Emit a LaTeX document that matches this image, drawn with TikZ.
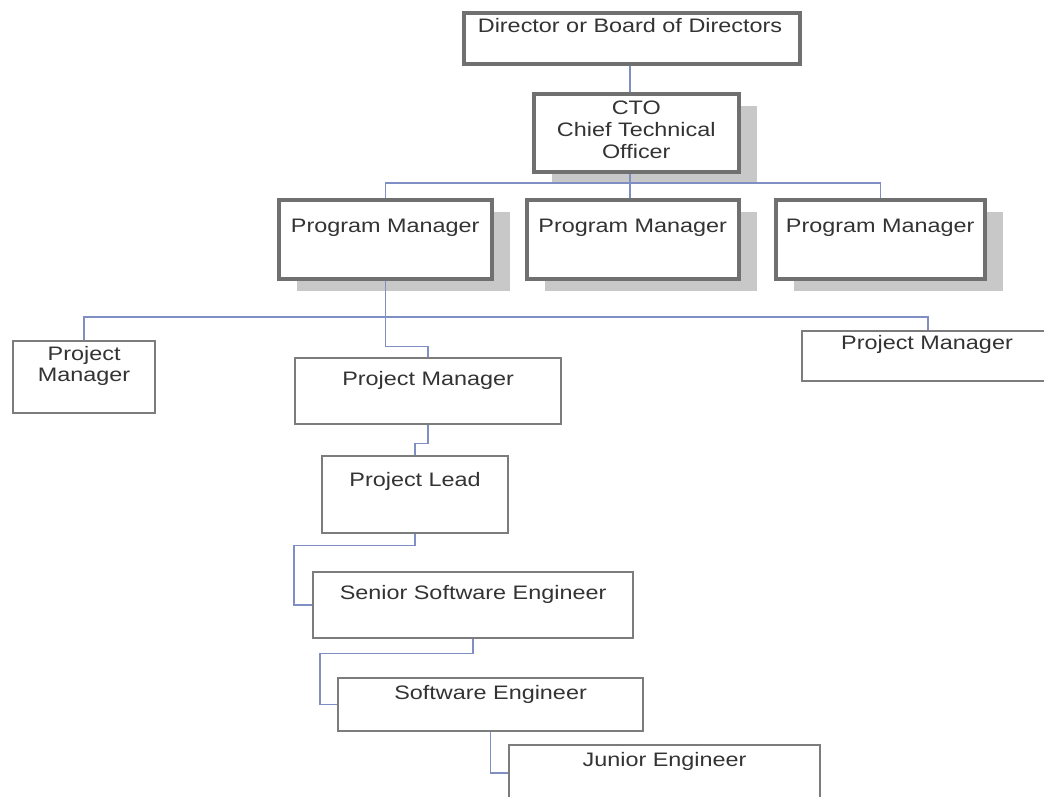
\documentclass[tikz,border=0pt]{standalone}
\usepackage{fontspec}
\setmainfont{Liberation Sans}[FakeStretch=1.2]
\usetikzlibrary{shadows}
\definecolor{bordc}{HTML}{707070}
\definecolor{bordl}{HTML}{7C7C7C}
\definecolor{shadc}{HTML}{C8C8C8}
\definecolor{linec}{HTML}{7F8FC4}
\definecolor{txtc}{HTML}{333333}
\begin{document}
\begin{tikzpicture}[x=1pt,y=-1pt,
  heavybox/.style={draw=bordc,line width=3.5pt,fill=white,inner sep=0pt,anchor=north west},
  shadowbox/.style={heavybox,drop shadow={shadow xshift=18pt,shadow yshift=-12pt,fill=shadc,opacity=1}},
  lightbox/.style={draw=bordl,line width=2.2pt,fill=white,inner sep=0pt,anchor=north west},
  lbl/.style={anchor=north,inner sep=0pt,text=txtc,align=center,font=\fontsize{19.5}{22}\selectfont},
  conn/.style={draw=linec,line width=1.4pt}]
\useasboundingbox[fill=white] (0,0) rectangle (1044,796);

% boxes
\node[heavybox,minimum width=336pt,minimum height=51pt] (dir) at (462,11) {};
\node[shadowbox,minimum width=205pt,minimum height=78pt] (cto) at (532,92) {};
\node[shadowbox,minimum width=213pt,minimum height=79pt] (pmA) at (277,198) {};
\node[shadowbox,minimum width=212pt,minimum height=79pt] (pmB) at (525,198) {};
\node[shadowbox,minimum width=209pt,minimum height=79pt] (pmC) at (774,198) {};
\node[lightbox,minimum width=142pt,minimum height=72pt] (prjL) at (12,340) {};
\node[lightbox,minimum width=266pt,minimum height=66pt] (prjC) at (294,357) {};
\node[lightbox,minimum width=252pt,minimum height=50pt] (prjR) at (801,330) {};
\node[lightbox,minimum width=186pt,minimum height=77pt] (lead) at (321,455) {};
\node[lightbox,minimum width=320pt,minimum height=66pt] (senior) at (312,571) {};
\node[lightbox,minimum width=305pt,minimum height=53pt] (swe) at (337,677) {};
\node[lightbox,minimum width=311pt,minimum height=56pt] (junior) at (508,744) {};

% labels
\node[lbl] (dirT) at (630,18) {Director or Board of Directors};
\node[lbl] (ctoT) at (cto.center |- 0,101) {CTO\\Chief Technical\\Officer};
\node[lbl] (pmAT) at (pmA.center |- 0,218.5) {Program Manager};
\node[lbl] (pmBT) at (pmB.center |- 0,218.5) {Program Manager};
\node[lbl] (pmCT) at (pmC.center |- 0,218.5) {Program Manager};
\node[lbl,font=\fontsize{19.5}{21}\selectfont] (prjLT) at (prjL.center |- 0,346) {Project\\Manager};
\node[lbl] (prjCT) at (prjC.center |- 0,371) {Project Manager};
\node[lbl] (prjRT) at (927,335) {Project Manager};
\node[lbl] (leadT) at (lead.center |- 0,472) {Project Lead};
\node[lbl] (seniorT) at (senior.center |- 0,585) {Senior Software Engineer};
\node[lbl] (sweT) at (swe.center |- 0,685) {Software Engineer};
\node[lbl] (juniorT) at (junior.center |- 0,752) {Junior Engineer};

% connectors
\coordinate (trunk) at (630,183);
\draw[conn] (dir.south -| trunk) -- (cto.north -| trunk);
\draw[conn] (cto.south -| trunk) -- (trunk);
\draw[conn] (pmA.north) |- (trunk) -| (pmC.north);
\draw[conn] (trunk) -- (pmB.north -| trunk);
\coordinate (busL) at (prjL.north |- 0,317);
\draw[conn] (prjL.north) -- (busL) -| (prjR.north);
\draw[conn] (pmA.south) -- ++(0,66) -| (prjC.north);
\draw[conn] (prjC.south) -- ++(0,18) -| (lead.north);
\draw[conn] (lead.south) -- ++(0,11) -| ([xshift=-18pt]senior.west) -- (senior.west);
\draw[conn] (senior.south) -- ++(0,14) -| ([xshift=-17pt]swe.west) -- (swe.west);
\draw[conn] (swe.south) |- (junior.west);
\end{tikzpicture}
\end{document}
